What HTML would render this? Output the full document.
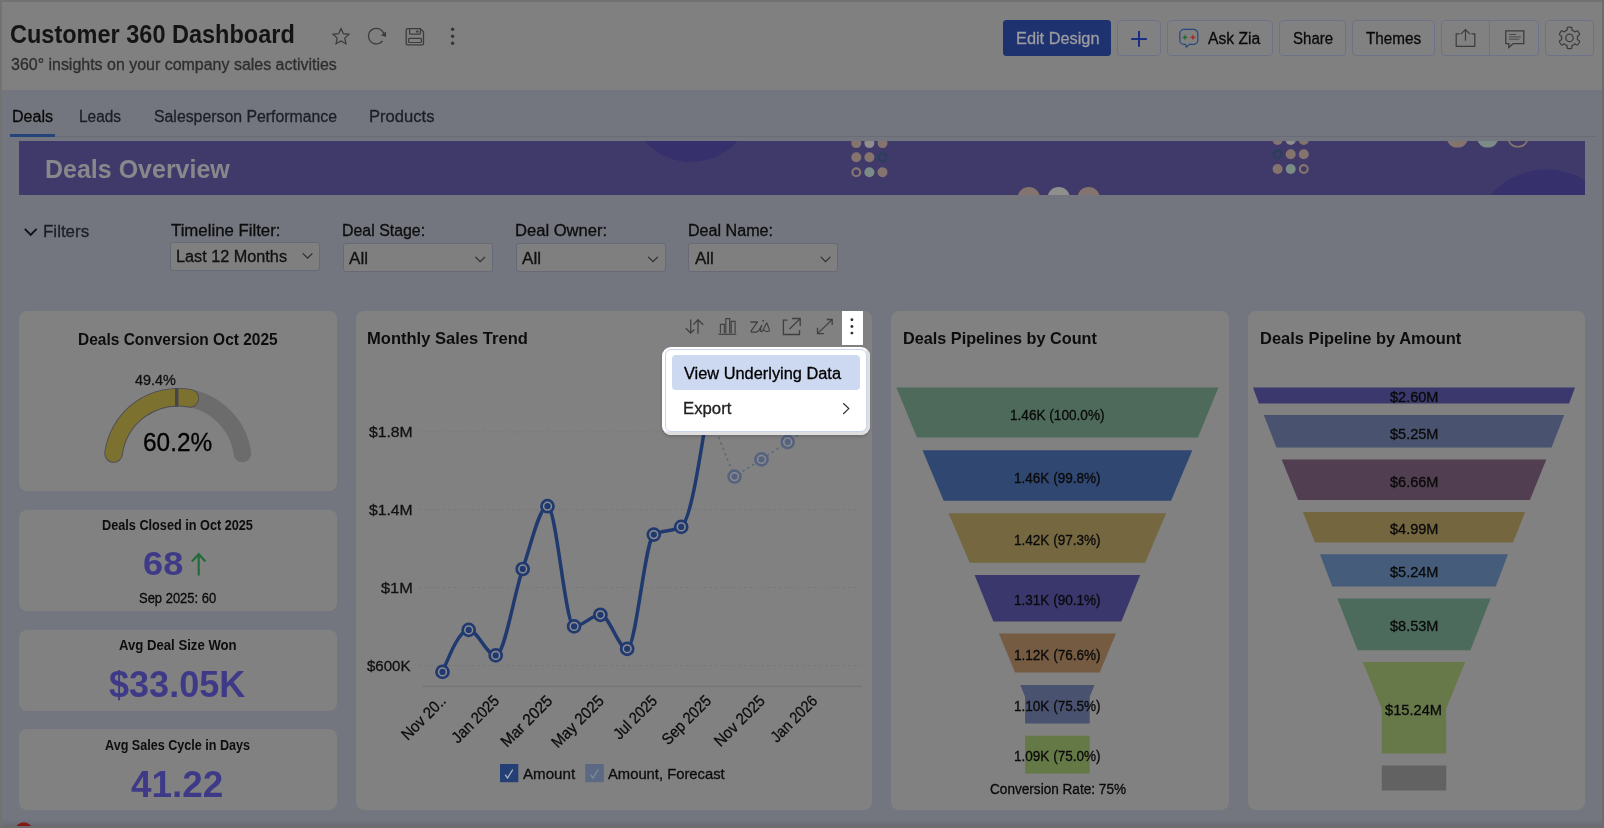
<!DOCTYPE html>
<html><head><meta charset="utf-8"><title>Customer 360 Dashboard</title>
<style>
html,body{margin:0;padding:0}
body{width:1604px;height:828px;overflow:hidden;position:relative;background:#74767f;font-family:"Liberation Sans",sans-serif}
.abs{position:absolute;box-sizing:border-box}
.t{position:absolute;white-space:nowrap;line-height:1;transform-origin:0 0;display:block}
.card{position:absolute;background:#818181;border-radius:8px}
.btn{position:absolute;box-sizing:border-box;top:20px;height:36px;border:1px solid #6d7288;border-radius:4px;background:#818181}
.sel{position:absolute;box-sizing:border-box;height:29px;width:150px;border:1px solid #666a76;border-radius:3px;background:#7f7f80}
svg{position:absolute;left:0;top:0;overflow:visible;will-change:transform}
</style></head>
<body>
<!-- header -->
<div class="abs" id="header" style="left:0;top:0;width:1604px;height:90px;background:#808080"></div>

<!-- header buttons -->
<div class="btn" style="left:1003.4px;width:107.8px;background:#1e3270;border-color:#1e3270;border-radius:3px"></div>
<div class="btn" style="left:1117px;width:44px"></div>
<div class="btn" style="left:1167px;width:106px"></div>
<div class="btn" style="left:1279px;width:67px"></div>
<div class="btn" style="left:1352px;width:83px"></div>
<div class="btn" style="left:1441px;width:98px"></div>
<div class="abs" style="left:1489px;top:20px;width:1px;height:36px;background:#6d7288"></div>
<div class="btn" style="left:1545px;width:49px"></div>

<!-- tabs -->
<div class="abs" style="left:11px;top:135.8px;width:1586px;height:1.2px;background:#696c76"></div>
<div class="abs" style="left:10.3px;top:133.5px;width:44.8px;height:3.5px;background:#25457a"></div>

<!-- banner -->
<div class="abs" id="banner" style="left:19px;top:141px;width:1566px;height:54px;background:#403a6b;overflow:hidden">
<svg width="1566" height="54" viewBox="19 141 1566 54">
<circle cx="691" cy="100" r="62" fill="#36306c"/>
<circle cx="1546.5" cy="244" r="74.5" fill="#36306c"/>
<circle cx="856.3" cy="143.1" r="5" fill="#84746d"/>
<circle cx="869.4" cy="143.1" r="5" fill="#8f8f8d"/>
<circle cx="882.5" cy="143.1" r="5" fill="#84746d"/>
<circle cx="856.3" cy="157.3" r="5" fill="#84746d"/>
<circle cx="869.4" cy="157.3" r="5" fill="#84746d"/>
<circle cx="882.5" cy="157.3" r="3.9" fill="none" stroke="#2a3f58" stroke-width="2.2"/>
<circle cx="856.3" cy="172.3" r="3.9" fill="none" stroke="#84746d" stroke-width="2.2"/>
<circle cx="869.4" cy="172.3" r="5" fill="#7b8b85"/>
<circle cx="882.5" cy="172.3" r="5" fill="#84746d"/>
<circle cx="1277.6" cy="140" r="5" fill="#84746d"/>
<circle cx="1290.7" cy="140" r="5" fill="#8f8f8d"/>
<circle cx="1303.8" cy="140" r="5" fill="#84746d"/>
<circle cx="1277.6" cy="154.2" r="3.9" fill="none" stroke="#2a3f58" stroke-width="2.2"/>
<circle cx="1290.7" cy="154.2" r="5" fill="#84746d"/>
<circle cx="1303.8" cy="154.2" r="5" fill="#84746d"/>
<circle cx="1277.6" cy="169" r="5" fill="#84746d"/>
<circle cx="1290.7" cy="169" r="5" fill="#7b8b85"/>
<circle cx="1303.8" cy="169" r="3.9" fill="none" stroke="#84746d" stroke-width="2.2"/>
<circle cx="1028.8" cy="198.2" r="11.2" fill="#84746d"/>
<circle cx="1058.7" cy="198.2" r="11.2" fill="#8f8f8d"/>
<circle cx="1088.6" cy="198.2" r="11.2" fill="#84746d"/>
<circle cx="1457.4" cy="136.6" r="11" fill="#84746d"/>
<circle cx="1487.7" cy="136.6" r="11" fill="#7b8b85"/>
<circle cx="1517.9" cy="136.6" r="10.2" fill="none" stroke="#84746d" stroke-width="1.6"/>
</svg>
</div>

<!-- filter selects -->
<div class="sel" style="left:170px;top:242px"></div>
<div class="sel" style="left:343px;top:243px"></div>
<div class="sel" style="left:516px;top:243px"></div>
<div class="sel" style="left:688px;top:243px"></div>

<!-- cards -->
<div class="card" style="left:19px;top:311px;width:318px;height:180px"></div>
<div class="card" style="left:19px;top:510px;width:318px;height:101px"></div>
<div class="card" style="left:19px;top:630px;width:318px;height:81px"></div>
<div class="card" style="left:19px;top:729px;width:318px;height:81px"></div>
<div class="card" style="left:356px;top:311px;width:516px;height:499px"></div>
<div class="card" style="left:891px;top:311px;width:338px;height:499px"></div>
<div class="card" style="left:1248px;top:311px;width:337px;height:499px"></div>

<!-- main vector layer -->
<svg width="1604" height="828" viewBox="0 0 1604 828">
<polygon points="896.4,387.4 1218.4,387.4 1197.9,437.5 916.9,437.5" fill="#4d6a5b"/>
<polygon points="922.5,450.3 1192.3,450.3 1171.1,500.8 943.7,500.8" fill="#2f4771"/>
<polygon points="948.6,513.2 1166.2,513.2 1145.1,562.7 969.7,562.7" fill="#75673f"/>
<polygon points="974.6,574.9 1140.2,574.9 1121.4,621.5 993.4,621.5" fill="#3a376c"/>
<polygon points="998.9,633.5 1115.9,633.5 1099.7,672.6 1015.1,672.6" fill="#745b41"/>
<polygon points="1020.3,684.9 1094.5,684.9 1089.7,696.8 1089.7,723.4 1025.1,723.4 1025.1,696.8" fill="#49526f"/>
<polygon points="1025.1,735.7 1089.7,735.7 1089.7,773.6 1025.1,773.6" fill="#657947"/>
<polygon points="1253.0,387.4 1575.0,387.4 1569.1,403.4 1258.9,403.4" fill="#3b386d"/>
<polygon points="1263.8,415.1 1564.2,415.1 1551.5,447.4 1276.5,447.4" fill="#49526e"/>
<polygon points="1281.7,459.5 1546.3,459.5 1529.9,499.9 1298.1,499.9" fill="#513f51"/>
<polygon points="1302.9,512.0 1525.1,512.0 1513.0,542.6 1315.0,542.6" fill="#74663f"/>
<polygon points="1320.0,554.3 1508.0,554.3 1495.8,586.6 1332.2,586.6" fill="#455d7b"/>
<polygon points="1337.4,598.5 1490.6,598.5 1470.4,650.3 1357.6,650.3" fill="#4d6b5c"/>
<polygon points="1362.8,662.1 1465.2,662.1 1446.2,708.5 1446.2,753.6 1381.8,753.6 1381.8,708.5" fill="#677849"/>
<polygon points="1381.8,765.5 1446.2,765.5 1446.2,790.5 1381.8,790.5" fill="#626262"/>
<path d="M113.59,453.49 A65,65 0 0 1 242.41,453.49" fill="none" stroke="#6c6c6c" stroke-width="17.6" stroke-linecap="round"/>
<path d="M113.59,453.49 A65,65 0 0 1 189.96,398.31" fill="none" stroke="#4b4b55" stroke-width="18.6" stroke-linecap="round"/>
<path d="M113.59,453.49 A65,65 0 0 1 189.96,398.31" fill="none" stroke="#7d7130" stroke-width="16.8" stroke-linecap="round"/>
<rect x="175" y="388" width="3.4" height="18.6" fill="#45454e"/>
<line x1="419" y1="431.8" x2="861" y2="431.8" stroke="#797979" stroke-width="1" stroke-dasharray="3 2.8"/>
<line x1="419" y1="509.5" x2="861" y2="509.5" stroke="#797979" stroke-width="1" stroke-dasharray="3 2.8"/>
<line x1="419" y1="587.5" x2="861" y2="587.5" stroke="#797979" stroke-width="1" stroke-dasharray="3 2.8"/>
<line x1="419" y1="665.6" x2="861" y2="665.6" stroke="#797979" stroke-width="1" stroke-dasharray="3 2.8"/>
<line x1="422.5" y1="686.4" x2="861.7" y2="686.4" stroke="#747474" stroke-width="1.2"/>
<path d="M442.5,671.9 C451.2,650.9 460.0,629.9 468.7,629.9 C477.7,629.9 486.7,655.4 495.7,655.4 C504.7,655.4 513.7,594.7 522.7,569.0 C531.0,545.4 539.2,506.2 547.5,506.2 C556.4,506.2 565.2,626.4 574.1,626.4 C582.9,626.4 591.6,614.8 600.4,614.8 C609.3,614.8 618.3,648.8 627.2,648.8 C636.1,648.8 644.9,539.6 653.8,534.6 C662.9,529.5 672.1,532.0 681.2,526.9 C690.0,522.0 698.8,466.0 707.6,410.0" fill="none" stroke="#203a70" stroke-width="3.5" stroke-linejoin="round" stroke-linecap="round"/>
<circle cx="442.5" cy="671.9" r="6.0" fill="#8c8c90" stroke="#203a70" stroke-width="2.7"/><circle cx="442.5" cy="671.9" r="3.15" fill="#203a70"/>
<circle cx="468.7" cy="629.9" r="6.0" fill="#8c8c90" stroke="#203a70" stroke-width="2.7"/><circle cx="468.7" cy="629.9" r="3.15" fill="#203a70"/>
<circle cx="495.7" cy="655.4" r="6.0" fill="#8c8c90" stroke="#203a70" stroke-width="2.7"/><circle cx="495.7" cy="655.4" r="3.15" fill="#203a70"/>
<circle cx="522.7" cy="569" r="6.0" fill="#8c8c90" stroke="#203a70" stroke-width="2.7"/><circle cx="522.7" cy="569" r="3.15" fill="#203a70"/>
<circle cx="547.5" cy="506.2" r="6.0" fill="#8c8c90" stroke="#203a70" stroke-width="2.7"/><circle cx="547.5" cy="506.2" r="3.15" fill="#203a70"/>
<circle cx="574.1" cy="626.4" r="6.0" fill="#8c8c90" stroke="#203a70" stroke-width="2.7"/><circle cx="574.1" cy="626.4" r="3.15" fill="#203a70"/>
<circle cx="600.4" cy="614.8" r="6.0" fill="#8c8c90" stroke="#203a70" stroke-width="2.7"/><circle cx="600.4" cy="614.8" r="3.15" fill="#203a70"/>
<circle cx="627.2" cy="648.8" r="6.0" fill="#8c8c90" stroke="#203a70" stroke-width="2.7"/><circle cx="627.2" cy="648.8" r="3.15" fill="#203a70"/>
<circle cx="653.8" cy="534.6" r="6.0" fill="#8c8c90" stroke="#203a70" stroke-width="2.7"/><circle cx="653.8" cy="534.6" r="3.15" fill="#203a70"/>
<circle cx="681.2" cy="526.9" r="6.0" fill="#8c8c90" stroke="#203a70" stroke-width="2.7"/><circle cx="681.2" cy="526.9" r="3.15" fill="#203a70"/>
<polyline points="707.6,410 734.5,476.6 761.5,459.4 787.7,442 813.9,424.6" fill="none" stroke="#56637e" stroke-width="1.3" stroke-dasharray="2.6 3.2"/>
<circle cx="734.5" cy="476.6" r="6.0" fill="#8b8b8f" stroke="#56637e" stroke-width="2.6"/><circle cx="734.5" cy="476.6" r="3.15" fill="#56637e"/>
<circle cx="761.5" cy="459.4" r="6.0" fill="#8b8b8f" stroke="#56637e" stroke-width="2.6"/><circle cx="761.5" cy="459.4" r="3.15" fill="#56637e"/>
<circle cx="787.7" cy="442" r="6.0" fill="#8b8b8f" stroke="#56637e" stroke-width="2.6"/><circle cx="787.7" cy="442" r="3.15" fill="#56637e"/>
<text x="447.0" y="701.8" transform="rotate(-45 447.0 701.8)" text-anchor="end" font-family="Liberation Sans, sans-serif" font-size="16" fill="#0a0a0a" stroke="#0a0a0a" stroke-width="0.25" textLength="55.5" lengthAdjust="spacingAndGlyphs">Nov 20..</text>
<text x="500.2" y="701.8" transform="rotate(-45 500.2 701.8)" text-anchor="end" font-family="Liberation Sans, sans-serif" font-size="16" fill="#0a0a0a" stroke="#0a0a0a" stroke-width="0.25" textLength="59.5" lengthAdjust="spacingAndGlyphs">Jan 2025</text>
<text x="553.4" y="701.8" transform="rotate(-45 553.4 701.8)" text-anchor="end" font-family="Liberation Sans, sans-serif" font-size="16" fill="#0a0a0a" stroke="#0a0a0a" stroke-width="0.25" textLength="65.5" lengthAdjust="spacingAndGlyphs">Mar 2025</text>
<text x="604.9" y="701.8" transform="rotate(-45 604.9 701.8)" text-anchor="end" font-family="Liberation Sans, sans-serif" font-size="16" fill="#0a0a0a" stroke="#0a0a0a" stroke-width="0.25" textLength="66.5" lengthAdjust="spacingAndGlyphs">May 2025</text>
<text x="658.3" y="701.8" transform="rotate(-45 658.3 701.8)" text-anchor="end" font-family="Liberation Sans, sans-serif" font-size="16" fill="#0a0a0a" stroke="#0a0a0a" stroke-width="0.25" textLength="54.5" lengthAdjust="spacingAndGlyphs">Jul 2025</text>
<text x="712.1" y="701.8" transform="rotate(-45 712.1 701.8)" text-anchor="end" font-family="Liberation Sans, sans-serif" font-size="16" fill="#0a0a0a" stroke="#0a0a0a" stroke-width="0.25" textLength="62" lengthAdjust="spacingAndGlyphs">Sep 2025</text>
<text x="766.0" y="701.8" transform="rotate(-45 766.0 701.8)" text-anchor="end" font-family="Liberation Sans, sans-serif" font-size="16" fill="#0a0a0a" stroke="#0a0a0a" stroke-width="0.25" textLength="64.5" lengthAdjust="spacingAndGlyphs">Nov 2025</text>
<text x="818.4" y="701.8" transform="rotate(-45 818.4 701.8)" text-anchor="end" font-family="Liberation Sans, sans-serif" font-size="16" fill="#0a0a0a" stroke="#0a0a0a" stroke-width="0.25" textLength="58.5" lengthAdjust="spacingAndGlyphs">Jan 2026</text>
<rect x="500" y="764" width="18.3" height="18.2" fill="#243e76"/>
<path d="M505.2,774.6 l2.3,3.5 l5.3,-8.6" fill="none" stroke="#aeb2bf" stroke-width="1.35"/>
<rect x="585.3" y="764" width="18.5" height="18.2" fill="#5c6983"/>
<path d="M590.6,774.6 l2.3,3.5 l5.3,-8.6" fill="none" stroke="#7d889f" stroke-width="1.35"/>
<polygon points="341.00,28.50 343.35,33.66 348.99,34.30 344.80,38.14 345.94,43.70 341.00,40.90 336.06,43.70 337.20,38.14 333.01,34.30 338.65,33.66" fill="none" stroke="#3c3c3c" stroke-width="1.25" stroke-linejoin="miter"/>
<path d="M382.45,40.90 A7.8,7.8 0 1 1 383.87,34.21" fill="none" stroke="#3c3c3c" stroke-width="1.25"/>
<polygon points="386,31.6 386,36.9 380.9,35.3" fill="#3c3c3c"/>
<path d="M407.6,28.7 h12.6 l3.3,3.1 v11.6 a1.4,1.4 0 0 1 -1.4,1.4 h-14.5 a1.4,1.4 0 0 1 -1.4,-1.4 v-13.3 a1.4,1.4 0 0 1 1.4,-1.4 z" fill="none" stroke="#3c3c3c" stroke-width="1.3"/>
<path d="M409.6,28.7 v4.5 a0.9,0.9 0 0 0 0.9,0.9 h9 a0.9,0.9 0 0 0 0.9,-0.9 v-4.5" fill="none" stroke="#3c3c3c" stroke-width="1.2"/>
<circle cx="417.3" cy="31.5" r="1.25" fill="#3c3c3c"/>
<rect x="408.6" y="38.4" width="12.8" height="4.1" rx="1" fill="none" stroke="#3c3c3c" stroke-width="1.2"/>
<circle cx="452.6" cy="29.2" r="1.7" fill="#363636"/>
<circle cx="452.6" cy="36.2" r="1.7" fill="#363636"/>
<circle cx="452.6" cy="43.2" r="1.7" fill="#363636"/>
<path d="M1131.2,38.9 h15.6 M1139,31.1 v15.6" stroke="#1b2e85" stroke-width="2" fill="none"/>
<path d="M1184,29.4 h9.6 a4.2,4.2 0 0 1 4.2,4.2 v6.6 a4.2,4.2 0 0 1 -4.2,4.2 h-4.2 l-3.2,2.8 l-0.6,-2.8 h-1.6 a4.2,4.2 0 0 1 -4.2,-4.2 v-6.6 a4.2,4.2 0 0 1 4.2,-4.2 z" fill="none" stroke="#27497e" stroke-width="1.2" stroke-linejoin="round"/>
<polygon points="1185.00,34.20 1185.83,36.47 1188.10,37.30 1185.83,38.13 1185.00,40.40 1184.17,38.13 1181.90,37.30 1184.17,36.47" fill="#2a6a2e"/>
<polygon points="1192.90,34.20 1193.73,36.47 1196.00,37.30 1193.73,38.13 1192.90,40.40 1192.07,38.13 1189.80,37.30 1192.07,36.47" fill="#a32a25"/>
<path d="M1459.6,33.9 h-3.4 v12.4 h18.6 v-12.4 h-3.4" fill="none" stroke="#3c3c3c" stroke-width="1.2"/>
<path d="M1465.5,40.8 v-11 M1460.9,34.2 l4.6,-4.7 l4.6,4.7" fill="none" stroke="#3c3c3c" stroke-width="1.2"/>
<path d="M1505.8,30.8 h18 v12.8 h-10.6 l-4.4,4 v-4 h-3 z" fill="none" stroke="#3c3c3c" stroke-width="1.3" stroke-linejoin="miter"/>
<path d="M1509,34.5 h7 M1509,36.9 h12 M1509,39.2 h10.4" stroke="#4a4a4a" stroke-width="1" fill="none"/>
<path d="M1577.50,37.90 L1577.50,38.11 L1577.49,38.32 L1577.48,38.53 L1577.46,38.74 L1577.43,38.94 L1577.40,39.15 L1577.37,39.36 L1577.43,39.59 L1577.86,39.91 L1578.53,40.32 L1579.18,40.77 L1579.57,41.17 L1579.59,41.47 L1579.49,41.73 L1579.39,41.99 L1579.27,42.25 L1579.16,42.51 L1579.03,42.76 L1578.90,43.01 L1578.77,43.25 L1578.62,43.49 L1578.47,43.73 L1578.32,43.96 L1578.16,44.19 L1577.99,44.41 L1577.82,44.63 L1577.64,44.85 L1577.37,44.99 L1576.83,44.85 L1576.11,44.51 L1575.42,44.14 L1574.93,43.93 L1574.70,43.98 L1574.53,44.12 L1574.37,44.25 L1574.20,44.37 L1574.03,44.49 L1573.86,44.61 L1573.68,44.72 L1573.50,44.83 L1573.32,44.93 L1573.13,45.03 L1572.94,45.12 L1572.75,45.21 L1572.56,45.29 L1572.37,45.37 L1572.17,45.44 L1572.01,45.61 L1571.94,46.15 L1571.92,46.93 L1571.86,47.72 L1571.70,48.26 L1571.45,48.42 L1571.17,48.47 L1570.90,48.51 L1570.62,48.54 L1570.34,48.57 L1570.06,48.59 L1569.78,48.60 L1569.50,48.60 L1569.22,48.60 L1568.94,48.59 L1568.66,48.57 L1568.38,48.54 L1568.10,48.51 L1567.83,48.47 L1567.55,48.42 L1567.30,48.26 L1567.14,47.72 L1567.08,46.93 L1567.06,46.15 L1566.99,45.61 L1566.83,45.44 L1566.63,45.37 L1566.44,45.29 L1566.25,45.21 L1566.06,45.12 L1565.87,45.03 L1565.68,44.93 L1565.50,44.83 L1565.32,44.72 L1565.14,44.61 L1564.97,44.49 L1564.80,44.37 L1564.63,44.25 L1564.47,44.12 L1564.30,43.98 L1564.07,43.93 L1563.58,44.14 L1562.89,44.51 L1562.17,44.85 L1561.63,44.99 L1561.36,44.85 L1561.18,44.63 L1561.01,44.41 L1560.84,44.19 L1560.68,43.96 L1560.53,43.73 L1560.38,43.49 L1560.23,43.25 L1560.10,43.01 L1559.97,42.76 L1559.84,42.51 L1559.73,42.25 L1559.61,41.99 L1559.51,41.73 L1559.41,41.47 L1559.43,41.17 L1559.82,40.77 L1560.47,40.32 L1561.14,39.91 L1561.57,39.59 L1561.63,39.36 L1561.60,39.15 L1561.57,38.94 L1561.54,38.74 L1561.52,38.53 L1561.51,38.32 L1561.50,38.11 L1561.50,37.90 L1561.50,37.69 L1561.51,37.48 L1561.52,37.27 L1561.54,37.06 L1561.57,36.86 L1561.60,36.65 L1561.63,36.44 L1561.57,36.21 L1561.14,35.89 L1560.47,35.48 L1559.82,35.03 L1559.43,34.63 L1559.41,34.33 L1559.51,34.07 L1559.61,33.81 L1559.73,33.55 L1559.84,33.29 L1559.97,33.04 L1560.10,32.79 L1560.23,32.55 L1560.38,32.31 L1560.53,32.07 L1560.68,31.84 L1560.84,31.61 L1561.01,31.39 L1561.18,31.17 L1561.36,30.95 L1561.63,30.81 L1562.17,30.95 L1562.89,31.29 L1563.58,31.66 L1564.07,31.87 L1564.30,31.82 L1564.47,31.68 L1564.63,31.55 L1564.80,31.43 L1564.97,31.31 L1565.14,31.19 L1565.32,31.08 L1565.50,30.97 L1565.68,30.87 L1565.87,30.77 L1566.06,30.68 L1566.25,30.59 L1566.44,30.51 L1566.63,30.43 L1566.83,30.36 L1566.99,30.19 L1567.06,29.65 L1567.08,28.87 L1567.14,28.08 L1567.30,27.54 L1567.55,27.38 L1567.83,27.33 L1568.10,27.29 L1568.38,27.26 L1568.66,27.23 L1568.94,27.21 L1569.22,27.20 L1569.50,27.20 L1569.78,27.20 L1570.06,27.21 L1570.34,27.23 L1570.62,27.26 L1570.90,27.29 L1571.17,27.33 L1571.45,27.38 L1571.70,27.54 L1571.86,28.08 L1571.92,28.87 L1571.94,29.65 L1572.01,30.19 L1572.17,30.36 L1572.37,30.43 L1572.56,30.51 L1572.75,30.59 L1572.94,30.68 L1573.13,30.77 L1573.32,30.87 L1573.50,30.97 L1573.68,31.08 L1573.86,31.19 L1574.03,31.31 L1574.20,31.43 L1574.37,31.55 L1574.53,31.68 L1574.70,31.82 L1574.93,31.87 L1575.42,31.66 L1576.11,31.29 L1576.83,30.95 L1577.37,30.81 L1577.64,30.95 L1577.82,31.17 L1577.99,31.39 L1578.16,31.61 L1578.32,31.84 L1578.47,32.07 L1578.62,32.31 L1578.77,32.55 L1578.90,32.79 L1579.03,33.04 L1579.16,33.29 L1579.27,33.55 L1579.39,33.81 L1579.49,34.07 L1579.59,34.33 L1579.57,34.63 L1579.18,35.03 L1578.53,35.48 L1577.86,35.89 L1577.43,36.21 L1577.37,36.44 L1577.40,36.65 L1577.43,36.86 L1577.46,37.06 L1577.48,37.27 L1577.49,37.48 L1577.50,37.69 Z" fill="none" stroke="#3c3c3c" stroke-width="1.25" stroke-linejoin="round"/>
<circle cx="1569.5" cy="37.9" r="3.7" fill="none" stroke="#3c3c3c" stroke-width="1.25"/>
<path d="M24.8,228.8 l5.9,6 l5.9,-6" fill="none" stroke="#111" stroke-width="1.9"/>
<path d="M302.8,253.4 l4.8,4.8 l4.8,-4.8" fill="none" stroke="#2e2e33" stroke-width="1.2"/>
<path d="M475.4,256.8 l4.8,4.8 l4.8,-4.8" fill="none" stroke="#2e2e33" stroke-width="1.2"/>
<path d="M648.2,256.8 l4.8,4.8 l4.8,-4.8" fill="none" stroke="#2e2e33" stroke-width="1.2"/>
<path d="M820.8,256.8 l4.8,4.8 l4.8,-4.8" fill="none" stroke="#2e2e33" stroke-width="1.2"/>
<path d="M198.7,575.6 v-21 M191.9,561.6 l6.8,-7.4 l6.8,7.4" fill="none" stroke="#246b3a" stroke-width="2.2"/>
<path d="M690.7,319.5 v13.4 M685.9,328.3 l4.8,4.8 l3.6,-3.6 M698,333.7 v-14 M693.5,324.6 l4.5,-4.9 l5.1,5.1" fill="none" stroke="#404040" stroke-width="1.3"/>
<path d="M718.5,334.3 h17.8" stroke="#404040" stroke-width="1.2" fill="none"/>
<path d="M720.4,333.2 v-8.8 h3.9 v8.8 M725.8,333.2 v-14.6 h3.9 v14.6 M731.2,333.2 v-11.8 h3.9 v11.8" fill="none" stroke="#404040" stroke-width="1.15"/>
<g transform="translate(750.6 0) scale(0.88 1) translate(-750.6 0)"><path d="M750.8,322 h7.6 l-7,8.6 q-1,1.6 1.2,1.6 h4 q2.2,0 3.6,-2 l3,-4.6 q-2.6,5.4 -0.6,6 q1.6,0.2 3.4,-3.6 l2.2,-4.2 q0.8,-1.2 1.4,0.2 l2.2,5.6 q0.6,1.8 -1.4,2 q-2.8,0 -5.4,-1.6" fill="none" stroke="#404040" stroke-width="1.3" stroke-linejoin="round" stroke-linecap="round"/>
<circle cx="765" cy="320.7" r="1.05" fill="#404040"/></g>
<path d="M787.4,320.2 h-4 v14.3 h16.1 v-4.6" fill="none" stroke="#404040" stroke-width="1.3"/>
<path d="M789.6,329 l10.5,-10.4 M792,318.5 h8.2 v7.6" fill="none" stroke="#404040" stroke-width="1.3"/>
<path d="M817.5,333.6 l14.6,-14 M826.9,319.5 h5.3 v5.4 M817.5,327.8 v5.8 h6.4" fill="none" stroke="#404040" stroke-width="1.3"/>
<circle cx="23.8" cy="831" r="8.8" fill="#8c1c14"/>
</svg>

<div id="texts" style="position:absolute;left:0;top:0;width:1604px;height:828px;will-change:transform">
<span class="t" style="left:10.48px;top:21.81px;font-size:25.5px;font-weight:bold;color:#141414;transform:scaleX(0.9218)">Customer 360 Dashboard</span>
<span class="t" style="left:10.80px;top:56.56px;font-size:16px;-webkit-text-stroke:0.3px;color:#2e2e2e;transform:scaleX(0.9977)">360° insights on your company sales activities</span>
<span class="t" style="left:1015.98px;top:30.76px;font-size:16px;-webkit-text-stroke:0.3px;color:#9d9d9f;transform:scaleX(1.0210)">Edit Design</span>
<span class="t" style="left:1207.90px;top:30.76px;font-size:16px;-webkit-text-stroke:0.3px;color:#0a0a0a;transform:scaleX(0.9786)">Ask Zia</span>
<span class="t" style="left:1292.90px;top:30.76px;font-size:16px;-webkit-text-stroke:0.3px;color:#0a0a0a;transform:scaleX(0.9393)">Share</span>
<span class="t" style="left:1366.40px;top:30.76px;font-size:16px;-webkit-text-stroke:0.3px;color:#0a0a0a;transform:scaleX(0.9551)">Themes</span>
<span class="t" style="left:11.60px;top:108.76px;font-size:16px;-webkit-text-stroke:0.3px;color:#0a0a0a;transform:scaleX(1.0049)">Deals</span>
<span class="t" style="left:79.24px;top:108.76px;font-size:16px;-webkit-text-stroke:0.3px;color:#1b1f29;transform:scaleX(0.9626)">Leads</span>
<span class="t" style="left:153.50px;top:108.76px;font-size:16px;-webkit-text-stroke:0.3px;color:#1b1f29;transform:scaleX(0.9893)">Salesperson Performance</span>
<span class="t" style="left:369.36px;top:108.76px;font-size:16px;-webkit-text-stroke:0.3px;color:#1b1f29;transform:scaleX(1.0364)">Products</span>
<span class="t" style="left:44.84px;top:155.99px;font-size:26px;font-weight:bold;color:#88878b;transform:scaleX(0.9614)">Deals Overview</span>
<span class="t" style="left:42.94px;top:223.96px;font-size:16px;-webkit-text-stroke:0.3px;color:#1b1f29;transform:scaleX(1.0598)">Filters</span>
<span class="t" style="left:170.50px;top:222.76px;font-size:16px;-webkit-text-stroke:0.3px;color:#0d0d0d;transform:scaleX(1.0489)">Timeline Filter:</span>
<span class="t" style="left:175.79px;top:249.36px;font-size:16px;-webkit-text-stroke:0.3px;color:#111;transform:scaleX(1.0148)">Last 12 Months</span>
<span class="t" style="left:342.31px;top:223.06px;font-size:16px;-webkit-text-stroke:0.3px;color:#0d0d0d;transform:scaleX(0.9943)">Deal Stage:</span>
<span class="t" style="left:515.36px;top:223.06px;font-size:16px;-webkit-text-stroke:0.3px;color:#0d0d0d;transform:scaleX(1.0361)">Deal Owner:</span>
<span class="t" style="left:687.69px;top:223.06px;font-size:16px;-webkit-text-stroke:0.3px;color:#0d0d0d;transform:scaleX(1.0057)">Deal Name:</span>
<span class="t" style="left:349.00px;top:250.66px;font-size:16px;-webkit-text-stroke:0.3px;color:#111;transform:scaleX(1.0681)">All</span>
<span class="t" style="left:521.60px;top:250.66px;font-size:16px;-webkit-text-stroke:0.3px;color:#111;transform:scaleX(1.0681)">All</span>
<span class="t" style="left:694.50px;top:250.66px;font-size:16px;-webkit-text-stroke:0.3px;color:#111;transform:scaleX(1.0623)">All</span>
<span class="t" style="left:77.76px;top:331.03px;font-size:16.5px;font-weight:bold;color:#0d0d0d;transform:scaleX(0.9386)">Deals Conversion Oct 2025</span>
<span class="t" style="left:134.90px;top:373.33px;font-size:14.5px;-webkit-text-stroke:0.3px;color:#111;transform:scaleX(0.9922)">49.4%</span>
<span class="t" style="left:142.92px;top:430.44px;font-size:25px;-webkit-text-stroke:0.3px;color:#000;transform:scaleX(0.9762)">60.2%</span>
<span class="t" style="left:102.20px;top:517.85px;font-size:14px;font-weight:bold;color:#0d0d0d;transform:scaleX(0.9063)">Deals Closed in Oct 2025</span>
<span class="t" style="left:143.12px;top:546.84px;font-size:33.5px;font-weight:bold;color:#3e3a87;transform:scaleX(1.0805)">68</span>
<span class="t" style="left:139.30px;top:591.35px;font-size:14px;-webkit-text-stroke:0.3px;color:#0a0a0a;transform:scaleX(0.9268)">Sep 2025: 60</span>
<span class="t" style="left:118.60px;top:637.85px;font-size:14px;font-weight:bold;color:#0d0d0d;transform:scaleX(0.9391)">Avg Deal Size Won</span>
<span class="t" style="left:109.30px;top:667.00px;font-size:36.5px;font-weight:bold;color:#3e3a87;transform:scaleX(0.9875)">$33.05K</span>
<span class="t" style="left:104.70px;top:737.55px;font-size:14px;font-weight:bold;color:#0d0d0d;transform:scaleX(0.8994)">Avg Sales Cycle in Days</span>
<span class="t" style="left:131.40px;top:767.00px;font-size:36.5px;font-weight:bold;color:#3e3a87;transform:scaleX(1.0107)">41.22</span>
<span class="t" style="left:366.93px;top:330.31px;font-size:17px;font-weight:bold;color:#0d0d0d;transform:scaleX(0.9730)">Monthly Sales Trend</span>
<span class="t" style="left:368.60px;top:424.18px;font-size:15.5px;-webkit-text-stroke:0.3px;color:#111;transform:scaleX(1.0126)">$1.8M</span>
<span class="t" style="left:368.60px;top:501.88px;font-size:15.5px;-webkit-text-stroke:0.3px;color:#111;transform:scaleX(1.0126)">$1.4M</span>
<span class="t" style="left:380.50px;top:579.98px;font-size:15.5px;-webkit-text-stroke:0.3px;color:#111;transform:scaleX(1.0533)">$1M</span>
<span class="t" style="left:367.20px;top:658.08px;font-size:15.5px;-webkit-text-stroke:0.3px;color:#111;transform:scaleX(0.9696)">$600K</span>
<span class="t" style="left:522.50px;top:765.80px;font-size:15px;-webkit-text-stroke:0.3px;color:#0d0d0d;transform:scaleX(1.0090)">Amount</span>
<span class="t" style="left:608.10px;top:765.80px;font-size:15px;-webkit-text-stroke:0.3px;color:#0d0d0d;transform:scaleX(0.9856)">Amount, Forecast</span>
<span class="t" style="left:902.65px;top:330.31px;font-size:17px;font-weight:bold;color:#0d0d0d;transform:scaleX(0.9548)">Deals Pipelines by Count</span>
<span class="t" style="left:1010.13px;top:408.15px;font-size:14px;-webkit-text-stroke:0.3px;color:#0a0a0a;transform:scaleX(0.9716)">1.46K (100.0%)</span>
<span class="t" style="left:1014.23px;top:470.65px;font-size:14px;-webkit-text-stroke:0.3px;color:#0a0a0a;transform:scaleX(0.9677)">1.46K (99.8%)</span>
<span class="t" style="left:1014.23px;top:533.25px;font-size:14px;-webkit-text-stroke:0.3px;color:#0a0a0a;transform:scaleX(0.9677)">1.42K (97.3%)</span>
<span class="t" style="left:1014.23px;top:592.85px;font-size:14px;-webkit-text-stroke:0.3px;color:#0a0a0a;transform:scaleX(0.9677)">1.31K (90.1%)</span>
<span class="t" style="left:1014.23px;top:647.85px;font-size:14px;-webkit-text-stroke:0.3px;color:#0a0a0a;transform:scaleX(0.9677)">1.12K (76.6%)</span>
<span class="t" style="left:1014.23px;top:699.25px;font-size:14px;-webkit-text-stroke:0.3px;color:#0a0a0a;transform:scaleX(0.9677)">1.10K (75.5%)</span>
<span class="t" style="left:1014.23px;top:749.45px;font-size:14px;-webkit-text-stroke:0.3px;color:#0a0a0a;transform:scaleX(0.9677)">1.09K (75.0%)</span>
<span class="t" style="left:989.50px;top:781.85px;font-size:14px;-webkit-text-stroke:0.3px;color:#0a0a0a;transform:scaleX(0.9712)">Conversion Rate: 75%</span>
<span class="t" style="left:1259.53px;top:330.31px;font-size:17px;font-weight:bold;color:#0d0d0d;transform:scaleX(0.9673)">Deals Pipeline by Amount</span>
<span class="t" style="left:1390.00px;top:390.25px;font-size:14px;-webkit-text-stroke:0.3px;color:#0a0a0a;transform:scaleX(1.0362)">$2.60M</span>
<span class="t" style="left:1390.00px;top:426.75px;font-size:14px;-webkit-text-stroke:0.3px;color:#0a0a0a;transform:scaleX(1.0362)">$5.25M</span>
<span class="t" style="left:1390.00px;top:474.75px;font-size:14px;-webkit-text-stroke:0.3px;color:#0a0a0a;transform:scaleX(1.0362)">$6.66M</span>
<span class="t" style="left:1390.00px;top:522.05px;font-size:14px;-webkit-text-stroke:0.3px;color:#0a0a0a;transform:scaleX(1.0362)">$4.99M</span>
<span class="t" style="left:1390.00px;top:565.35px;font-size:14px;-webkit-text-stroke:0.3px;color:#0a0a0a;transform:scaleX(1.0362)">$5.24M</span>
<span class="t" style="left:1390.00px;top:619.35px;font-size:14px;-webkit-text-stroke:0.3px;color:#0a0a0a;transform:scaleX(1.0362)">$8.53M</span>
<span class="t" style="left:1385.40px;top:702.85px;font-size:14px;-webkit-text-stroke:0.3px;color:#0a0a0a;transform:scaleX(1.0479)">$15.24M</span>
</div>

<!-- kebab highlight + context menu -->
<div class="abs" style="left:842px;top:311px;width:21px;height:34px;background:#ffffff"></div>
<div class="abs" style="left:662px;top:346.8px;width:208.2px;height:88.3px;background:#fff;border-radius:9px;box-shadow:inset -3.6px -3.4px 0 0 #dfdfdf, 0 2px 3px rgba(0,0,0,.14)"></div>
<div class="abs" id="menu" style="left:665px;top:349px;width:202px;height:83px;background:#fff;border:1px solid #ccd4ec;border-radius:6px"></div>
<div class="abs" style="left:672px;top:355px;width:188px;height:35px;background:#cdd8f1;border-radius:4px"></div>
<svg width="1604" height="828" viewBox="0 0 1604 828">
<circle cx="851.9" cy="319.8" r="1.45" fill="#333"/>
<circle cx="851.9" cy="326.5" r="1.45" fill="#333"/>
<circle cx="851.9" cy="333.1" r="1.45" fill="#333"/>
<path d="M843.2,403.2 l5.6,5.4 l-5.6,5.4" fill="none" stroke="#333" stroke-width="1.2"/>
</svg>
<div id="mtexts" style="position:absolute;left:0;top:0;width:1604px;height:828px;will-change:transform">
<span class="t" style="left:684.00px;top:365.66px;font-size:16px;-webkit-text-stroke:0.3px;color:#000;transform:scaleX(1.0224)">View Underlying Data</span>
<span class="t" style="left:682.95px;top:400.96px;font-size:16px;-webkit-text-stroke:0.3px;color:#222;transform:scaleX(1.0459)">Export</span>
</div>

<div class="abs" style="left:0;top:819px;width:1604px;height:7px;background:linear-gradient(rgba(0,0,0,0),rgba(0,0,0,0.08))"></div>
<!-- outer frame -->
<div class="abs" style="left:0;top:0;width:1604px;height:2px;background:#727272"></div>
<div class="abs" style="left:0;top:0;width:1.7px;height:828px;background:#727272"></div>
<div class="abs" style="left:1602px;top:0;width:2px;height:828px;background:#6c6c6c"></div>
<div class="abs" style="left:0;top:826px;width:1604px;height:2px;background:#6c6c6c"></div>
</body></html>
